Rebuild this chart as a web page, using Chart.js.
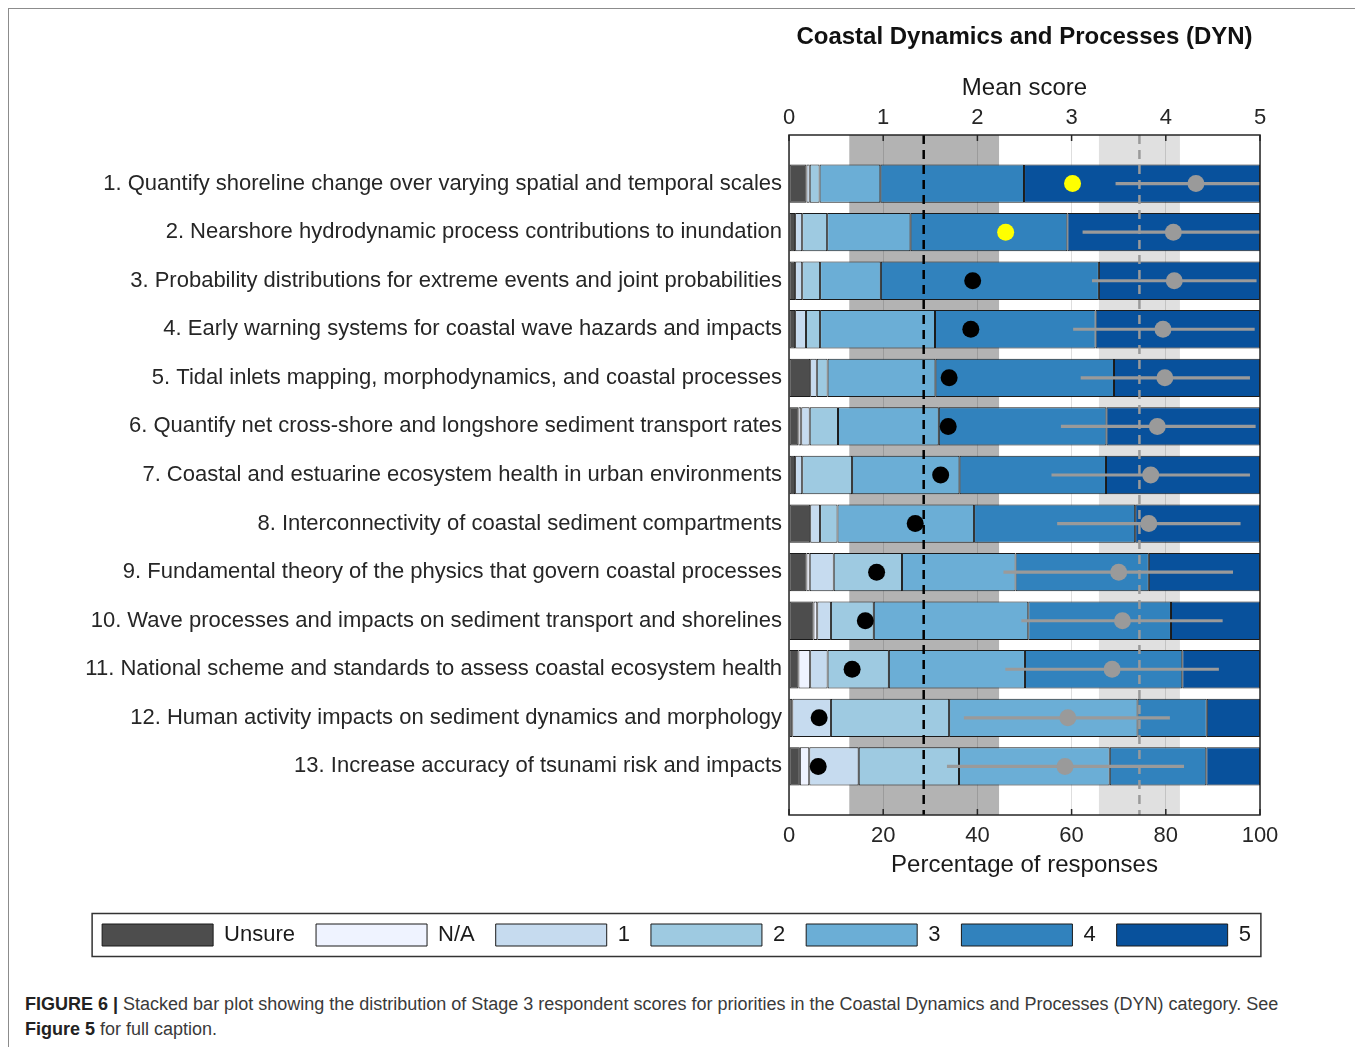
<!DOCTYPE html>
<html>
<head>
<meta charset="utf-8">
<title>Coastal Dynamics and Processes (DYN)</title>
<script src="https://cdn.jsdelivr.net/npm/chart.js@4.4.1/dist/chart.umd.min.js"></script>
<style>
  html, body { margin: 0; padding: 0; background: #fff; }
  body { width: 1355px; height: 1047px; position: relative; overflow: hidden; font-family: "Liberation Sans", Arial, sans-serif; }
  #frame { position: absolute; left: 8px; top: 8px; width: 1400px; height: 1100px; border-left: 1px solid #8c8c8c; border-top: 1px solid #8c8c8c; }
  #chartBox { position: absolute; left: 0; top: 0; width: 1355px; height: 975px; }
  #caption { position: absolute; left: 25px; top: 992px; font-size: 18px; line-height: 25px; color: #3a3a3a; }
  #caption b { color: #222; }
</style>
</head>
<body>
<div id="frame"></div>
<div id="chartBox"><canvas id="dyn"></canvas></div>
<div id="caption"><b>FIGURE 6 |</b> Stacked bar plot showing the distribution of Stage 3 respondent scores for priorities in the Coastal Dynamics and Processes (DYN) category. See<br><b>Figure 5</b> for full caption.</div>
<script>
var priorities = [
  "1. Quantify shoreline change over varying spatial and temporal scales",
  "2. Nearshore hydrodynamic process contributions to inundation",
  "3. Probability distributions for extreme events and joint probabilities",
  "4. Early warning systems for coastal wave hazards and impacts",
  "5. Tidal inlets mapping, morphodynamics, and coastal processes",
  "6. Quantify net cross-shore and longshore sediment transport rates",
  "7. Coastal and estuarine ecosystem health in urban environments",
  "8. Interconnectivity of coastal sediment compartments",
  "9. Fundamental theory of the physics that govern coastal processes",
  "10. Wave processes and impacts on sediment transport and shorelines",
  "11. National scheme and standards to assess coastal ecosystem health",
  "12. Human activity impacts on sediment dynamics and morphology",
  "13. Increase accuracy of tsunami risk and impacts"
];
var scoreLabels = ["Unsure", "N/A", "1", "2", "3", "4", "5"];

// percentage of responses per priority
var unsure        = [3.7, 1.3, 1.3, 1.3, 4.5, 2.0, 1.3, 4.5, 3.7, 5.2, 2.0, 0.7, 2.3];
var notApplicable = [0, 0, 0, 0, 0, 0.6, 0, 0, 0.7, 0.8, 2.5, 0, 2.0];
var score1        = [0.7, 1.5, 1.5, 2.3, 1.4, 1.8, 1.5, 2.1, 5.1, 2.9, 3.7, 8.2, 10.5];
var score2        = [2.1, 5.3, 3.8, 3.0, 2.3, 6.0, 10.6, 3.7, 14.5, 9.1, 13.0, 25.1, 21.3];
var score3        = [12.9, 17.7, 12.9, 24.4, 22.9, 21.4, 22.8, 29.0, 24.1, 32.8, 28.9, 40.0, 32.0];
var score4        = [30.5, 33.3, 46.3, 34.1, 37.9, 35.6, 31.1, 34.2, 28.3, 30.3, 33.4, 14.7, 20.5];
var score5        = [50.1, 40.9, 34.2, 34.9, 31.0, 32.6, 32.7, 26.5, 23.6, 18.9, 16.5, 11.3, 11.4];

// top axis values (0-5)
var rankScore = [3.01, 2.30, 1.95, 1.93, 1.70, 1.69, 1.61, 1.34, 0.93, 0.81, 0.67, 0.32, 0.31];
var highlightedRows = [1, 2];
var meanScore = [4.32, 4.08, 4.09, 3.97, 3.99, 3.91, 3.84, 3.82, 3.50, 3.54, 3.43, 2.96, 2.93];
var meanLow   = [3.47, 3.12, 3.22, 3.02, 3.10, 2.89, 2.79, 2.85, 2.28, 2.47, 2.30, 1.86, 1.68];
var meanHigh  = [5.17, 5.04, 4.96, 4.94, 4.89, 4.95, 4.89, 4.79, 4.71, 4.60, 4.56, 4.04, 4.19];
var rankBand = [0.64, 2.23];
var rankMean = 1.43;
var scoreBand = [3.29, 4.15];
var scoreMean = 3.72;

var segmentColors = ["#4d4d4d", "#eff3ff", "#c6dbef", "#9ecae1", "#6baed6", "#3182bd", "#08519c"];

Chart.defaults.font.family = '"Liberation Sans", Arial, sans-serif';
Chart.defaults.color = "#262626";

function rows(values) {
  return values.map(function (v, i) {
    return { x: v, y: i + 1 };
  });
}

var framePlugin = {
  id: "frame",
  beforeDraw: function (chart) {
    var ctx = chart.ctx;
    var area = chart.chartArea;
    var top = chart.scales.x2;
    var h = area.bottom - area.top;
    ctx.save();
    ctx.fillStyle = "#b3b3b3";
    var a = top.getPixelForValue(rankBand[0]);
    var b = top.getPixelForValue(rankBand[1]);
    ctx.fillRect(a, area.top, b - a, h);
    ctx.fillStyle = "#e0e0e0";
    a = top.getPixelForValue(scoreBand[0]);
    b = top.getPixelForValue(scoreBand[1]);
    ctx.fillRect(a, area.top, b - a, h);
    ctx.restore();
  },
  afterDraw: function (chart) {
    var ctx = chart.ctx;
    var area = chart.chartArea;
    ctx.save();
    ctx.strokeStyle = "#262626";
    ctx.lineWidth = 1.5;
    chart.scales.x2.ticks.forEach(function (t) {
      var px = chart.scales.x2.getPixelForValue(t.value);
      ctx.beginPath();
      ctx.moveTo(px, area.top);
      ctx.lineTo(px, area.top + 6);
      ctx.stroke();
    });
    chart.scales.x.ticks.forEach(function (t) {
      var px = chart.scales.x.getPixelForValue(t.value);
      ctx.beginPath();
      ctx.moveTo(px, area.bottom);
      ctx.lineTo(px, area.bottom - 6);
      ctx.stroke();
    });
    ctx.strokeRect(area.left, area.top, area.right - area.left, area.bottom - area.top);

    // frame round the legend
    var boxes = chart.legend.legendHitBoxes;
    var first = boxes[0];
    var last = boxes[boxes.length - 1];
    var cy = first.top + first.height / 2;
    var left = first.left - 10;
    var right = last.left + last.width + 10;
    ctx.strokeStyle = "#333";
    ctx.lineWidth = 1.5;
    ctx.strokeRect(left, cy - 21.5, right - left, 43);
    ctx.restore();
  }
};

var segments = [unsure, notApplicable, score1, score2, score3, score4, score5];
var datasets = segments.map(function (values, k) {
  return {
    type: "bar",
    label: scoreLabels[k],
    data: rows(values),
    xAxisID: "x",
    yAxisID: "y",
    backgroundColor: segmentColors[k],
    borderColor: "#1a1a1a",
    borderWidth: 1,
    borderSkipped: false,
    barPercentage: 0.79,
    categoryPercentage: 1,
    order: 10
  };
});

datasets.push({
  type: "line",
  label: "rank mean",
  data: [{ x: rankMean, y: 0 }, { x: rankMean, y: 14 }],
  xAxisID: "x2",
  yAxisID: "y",
  borderColor: "#000",
  borderWidth: 2.5,
  borderDash: [9, 6],
  pointRadius: 0,
  fill: false,
  order: 5
});
datasets.push({
  type: "line",
  label: "score mean",
  data: [{ x: scoreMean, y: 0 }, { x: scoreMean, y: 14 }],
  xAxisID: "x2",
  yAxisID: "y",
  borderColor: "#9a9a9a",
  borderWidth: 2.5,
  borderDash: [9, 6],
  pointRadius: 0,
  fill: false,
  order: 5
});
datasets.push({
  type: "bar",
  label: "spread",
  data: meanLow.map(function (lo, i) {
    return { x: [lo, meanHigh[i]], y: i + 1 };
  }),
  xAxisID: "x2",
  yAxisID: "y",
  grouped: false,
  barThickness: 2.5,
  maxBarThickness: 2.5,
  backgroundColor: "#9a9a9a",
  borderWidth: 0,
  order: 3
});
datasets.push({
  type: "scatter",
  label: "mean score",
  data: rows(meanScore),
  xAxisID: "x2",
  yAxisID: "y",
  backgroundColor: "#9a9a9a",
  borderWidth: 0,
  pointRadius: 8.5,
  order: 2
});
datasets.push({
  type: "scatter",
  label: "rank",
  data: rows(rankScore),
  xAxisID: "x2",
  yAxisID: "y",
  backgroundColor: rankScore.map(function (v, i) {
    return highlightedRows.indexOf(i + 1) >= 0 ? "#ffff00" : "#000000";
  }),
  borderWidth: 0,
  pointRadius: 8.5,
  order: 1
});

new Chart(document.getElementById("dyn"), {
  type: "bar",
  data: { datasets: datasets },
  plugins: [framePlugin],
  options: {
    indexAxis: "y",
    responsive: true,
    maintainAspectRatio: false,
    animation: false,
    events: [],
    layout: { padding: { left: 70, right: 72, top: 0, bottom: 19 } },
    plugins: {
      tooltip: { enabled: false },
      title: {
        display: true,
        text: "Coastal Dynamics and Processes (DYN)",
        fullSize: false,
        color: "#111",
        font: { size: 24, weight: "bold" },
        padding: { top: 23, bottom: 8 }
      },
      legend: {
        position: "bottom",
        labels: {
          boxWidth: 111,
          boxHeight: 22,
          padding: 21,
          color: "#1a1a1a",
          font: { size: 22 },
          filter: function (item) {
            return item.datasetIndex < 7;
          }
        }
      }
    },
    scales: {
      x: {
        type: "linear",
        position: "bottom",
        min: 0,
        max: 100,
        stacked: true,
        grid: { color: "rgba(0,0,0,0.13)", drawTicks: false },
        border: { display: false },
        ticks: { stepSize: 20, padding: 8, font: { size: 22 } },
        title: { display: true, text: "Percentage of responses", font: { size: 24 }, color: "#1a1a1a", padding: { top: 0, bottom: 23.6 } },
        afterFit: function (scale) { scale.height = 88; }
      },
      x2: {
        type: "linear",
        position: "top",
        min: 0,
        max: 5,
        grid: { display: false, drawTicks: false },
        border: { display: false },
        ticks: { stepSize: 1, padding: 4, font: { size: 22 } },
        title: { display: true, text: "Mean score", font: { size: 24 }, color: "#1a1a1a", padding: { top: 14, bottom: 0 } },
        afterFit: function (scale) { scale.height = 75.2; }
      },
      y: {
        type: "linear",
        min: 0,
        max: 14,
        reverse: true,
        stacked: true,
        offset: false,
        grid: { display: false, drawTicks: false, offset: false },
        border: { display: false },
        ticks: {
          stepSize: 1,
          autoSkip: false,
          padding: 7,
          font: { size: 22 },
          color: "#262626",
          callback: function (value) {
            return priorities[value - 1] || "";
          }
        },
        afterFit: function (scale) { scale.width = 719; }
      },
      // empty right-hand margin so the plot ends where the reference does
      yRight: {
        type: "linear",
        position: "right",
        grid: { display: false, drawTicks: false },
        border: { display: false },
        ticks: { display: false },
        afterFit: function (scale) { scale.width = 23; }
      }
    }
  }
});
</script>
</body>
</html>
